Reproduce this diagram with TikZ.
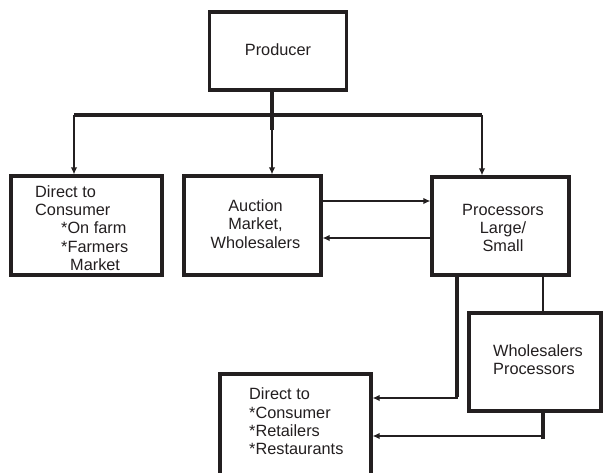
\documentclass[tikz,border=0pt]{standalone}
\usepackage{fontspec}
\setmainfont{Liberation Sans}
\usetikzlibrary{arrows.meta}
\definecolor{ink}{HTML}{231F20}
\begin{document}
\begin{tikzpicture}[x=1pt,y=-1pt,
  box/.style={draw=ink, line width=3.2pt, inner sep=0pt, fill=white},
  txt/.style={text=ink, inner sep=0pt, font=\fontsize{16.3}{18.3}\selectfont},
  thickline/.style={draw=ink, line width=3.4pt},
  thinline/.style={draw=ink, line width=1.5pt},
  arr/.style={thinline, -{Latex[length=7pt,width=6.5pt]}}
]
\useasboundingbox[fill=white] (0,0) rectangle (608,472);

% boxes
\node[box, minimum width=137pt, minimum height=78pt] (prod) at (278,51) {};
\node[box, minimum width=151pt, minimum height=99pt] (dtc) at (86.5,225.5) {};
\node[box, minimum width=137pt, minimum height=99pt] (auc) at (252.5,225.5) {};
\node[box, minimum width=137pt, minimum height=98pt] (proc) at (500.5,226) {};
\node[box, minimum width=132pt, minimum height=98pt] (whol) at (535,362) {};
\node[box, minimum width=151pt, minimum height=104pt] (dtr) at (295.5,426) {};

% texts
\node[txt] (tprod) at (278,50) {Producer};
\node[txt, anchor=west, align=left] (tdtc) at (35,228) {Direct to\\Consumer\\\hspace*{26pt}*On farm\\\hspace*{26pt}*Farmers\\\hspace*{35pt}Market};
\node[txt, align=center] (tauc) at (255.5,224) {Auction\\Market,\\Wholesalers};
\node[txt, align=center] (tproc) at (503,228) {Processors\\Large/\\Small};
\node[txt, anchor=west, align=left] (twhol) at (493,360) {Wholesalers\\Processors};
\node[txt, anchor=west, align=left] (tdtr) at (249,421.5) {Direct to\\*Consumer\\*Retailers\\*Restaurants};

% connector points
\coordinate (stem) at (272,130);
\coordinate (barL) at (74,115);
\coordinate (barR) at (482,115);
\coordinate (ya) at (0,201);
\coordinate (yb) at (0,238);
\coordinate (c1) at (457,398);
\coordinate (c2) at (543,0);
\coordinate (c3) at (543,439);
\coordinate (c4) at (543,436);

% producer distribution
\draw[thickline] (prod.south -| stem) -- (stem);
\draw[thickline] (barL) -- (barR);
\draw[arr] (stem) -- (auc.north -| stem);
\draw[arr] (barL) -- (dtc.north -| barL);
\draw[arr] (barR) -- (proc.north -| barR);

% auction <-> processors
\draw[arr] (auc.east |- ya) -- (proc.west |- ya);
\draw[arr] (proc.west |- yb) -- (auc.east |- yb);

% processors to direct (bottom)
\draw[thickline] (proc.south -| c1) -- ([yshift=0.8pt]c1);
\draw[arr] ([xshift=0.9pt]c1) -- (dtr.east |- c1);

% processors to wholesalers
\draw[thinline] (proc.south -| c2) -- (whol.north -| c2);

% wholesalers to direct (bottom)
\draw[thickline] (whol.south -| c2) -- (c3);
\draw[arr] ([xshift=0.9pt]c4) -- (dtr.east |- c4);
\end{tikzpicture}
\end{document}
